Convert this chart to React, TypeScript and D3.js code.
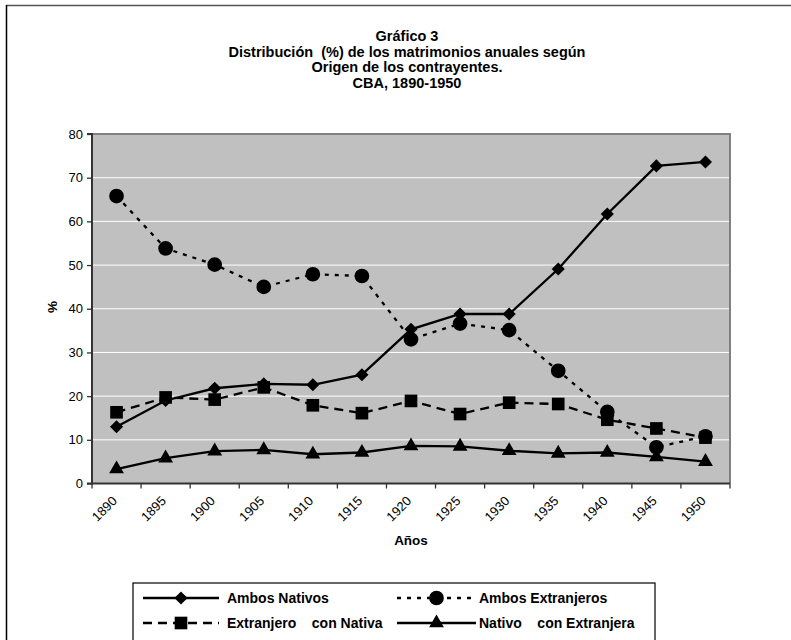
import React, { useEffect, useRef } from "react";
import * as d3 from "d3";

const years = ["1890","1895","1900","1905","1910","1915","1920","1925","1930","1935","1940","1945","1950"];
const ambosNativos = [13.0, 19.0, 21.8, 22.8, 22.6, 24.9, 35.3, 38.8, 38.8, 49.1, 61.7, 72.7, 73.6];
const ambosExtranjeros = [65.8, 53.8, 50.1, 45.0, 47.9, 47.5, 33.0, 36.6, 35.1, 25.8, 16.4, 8.3, 10.8];
const extranjeroConNativa = [16.3, 19.7, 19.2, 22.0, 17.9, 16.1, 18.9, 15.9, 18.5, 18.2, 14.6, 12.6, 10.5];
const nativoConExtranjera = [3.3, 5.8, 7.4, 7.7, 6.7, 7.1, 8.6, 8.5, 7.5, 6.9, 7.1, 6.1, 5.0];
const yTicks = [0, 10, 20, 30, 40, 50, 60, 70, 80];
const titleLines = ["Gráfico 3", "Distribución  (%) de los matrimonios anuales según", "Origen de los contrayentes.", "CBA, 1890-1950"];
const seriesNames = ["Ambos Nativos", "Ambos Extranjeros", "Extranjero    con Nativa", "Nativo    con Extranjera"];

export default function App() {
  const ref = useRef<SVGSVGElement>(null);
  useEffect(() => {
    const svg = d3.select(ref.current);
    svg.selectAll("*").remove();
    const W = 791, H = 640;
    const font = "'Liberation Sans', Arial, sans-serif";
    const left = 92, right = 730, top = 134, bottom = 483.5;

    // outer frame
    svg.append("rect").attr("x", 0).attr("y", 0).attr("width", W).attr("height", H).attr("fill", "#fff");
    svg.append("line").attr("x1", 6).attr("x2", W + 5).attr("y1", 5.5).attr("y2", 5.5).attr("stroke", "#555").attr("stroke-width", 1.5);
    svg.append("line").attr("x1", 6.5).attr("x2", 6.5).attr("y1", 5).attr("y2", H + 5).attr("stroke", "#000").attr("stroke-width", 1.5);

    // title
    const tg = svg.append("g").attr("font-family", font).attr("font-weight", "bold").attr("font-size", 14.5).attr("text-anchor", "middle");
    titleLines.forEach((t, i) => {
      tg.append("text").attr("x", 407).attr("y", 36 + i * 15.5).attr("dy", "0.36em").style("white-space", "pre").text(t);
    });

    const x = d3.scaleBand<string>().domain(years).range([left, right]);
    const y = d3.scaleLinear().domain([0, 80]).range([bottom, top]);

    // plot area
    svg.append("rect").attr("x", left).attr("y", top).attr("width", right - left).attr("height", bottom - top).attr("fill", "#C0C0C0");
    svg.append("g").selectAll("line").data(yTicks.filter(d => d > 0 && d < 80)).join("line")
      .attr("x1", left).attr("x2", right).attr("y1", d => y(d)).attr("y2", d => y(d))
      .attr("stroke", "#fff").attr("stroke-width", 1);
    svg.append("path").attr("d", `M${left},${top}H${right}V${bottom}`).attr("fill", "none").attr("stroke", "#808080").attr("stroke-width", 2);

    // y axis
    const ya = svg.append("g").attr("transform", `translate(${left},0)`)
      .call(d3.axisLeft(y).tickValues(yTicks).tickSize(5).tickPadding(4).tickFormat(d3.format("d")));
    ya.select(".domain").attr("stroke", "#333").attr("stroke-width", 2).attr("d", `M-5,${top}H0V${bottom}H-5`);
    ya.selectAll(".tick line").attr("stroke", "#333").attr("stroke-width", 1.3);
    ya.selectAll("text").attr("font-family", font).attr("font-size", 13).attr("fill", "#000");

    // x axis
    const xa = svg.append("g").attr("transform", `translate(0,${bottom})`);
    xa.append("line").attr("x1", left).attr("x2", right).attr("y1", 0).attr("y2", 0).attr("stroke", "#333").attr("stroke-width", 2);
    const bounds = years.map(d => x(d)!).concat([right]);
    xa.selectAll("line.tk").data(bounds).join("line").attr("class", "tk")
      .attr("x1", d => d).attr("x2", d => d).attr("y1", 0).attr("y2", 5).attr("stroke", "#333").attr("stroke-width", 1.3);
    xa.selectAll("text").data(years).join("text")
      .attr("transform", d => `translate(${x(d)! + x.bandwidth() / 2 - 2},${15}) rotate(-45)`)
      .attr("text-anchor", "end").attr("dy", "0.35em")
      .attr("font-family", font).attr("font-size", 13).text(d => d);

    // axis titles
    svg.append("text").attr("x", 411).attr("y", 540).attr("dy", "0.36em").attr("text-anchor", "middle").attr("font-family", font)
      .attr("font-weight", "bold").attr("font-size", 13.5).text("Años");
    svg.append("text").attr("transform", "translate(52,307) rotate(-90)").attr("dy", "0.36em").attr("text-anchor", "middle").attr("font-family", font)
      .attr("font-weight", "bold").attr("font-size", 13.5).text("%");

    const cx = (i: number) => x(years[i])! + x.bandwidth() / 2;
    const line = d3.line<number>().x((d, i) => cx(i)).y(d => y(d));

    const sym = {
      diamond: d3.symbol().type(d3.symbolDiamond2).size(110),
      circle: d3.symbol().type(d3.symbolCircle).size(170),
      square: d3.symbol().type(d3.symbolSquare).size(160),
      triangle: d3.symbol().type(d3.symbolTriangle).size(95),
    };

    const series = [
      { data: ambosNativos, dash: null, sym: sym.diamond },
      { data: ambosExtranjeros, dash: "4,6", sym: sym.circle },
      { data: extranjeroConNativa, dash: "9,6", sym: sym.square },
      { data: nativoConExtranjera, dash: null, sym: sym.triangle },
    ];

    const order = [0, 2, 3, 1];
    order.forEach(si => {
      const s = series[si];
      svg.append("path").attr("d", line(s.data)!).attr("fill", "none").attr("stroke", "#000")
        .attr("stroke-width", 2.3).attr("stroke-dasharray", s.dash ?? null);
    });
    order.forEach(si => {
      const s = series[si];
      svg.append("g").selectAll("path").data(s.data).join("path")
        .attr("d", s.sym()!)
        .attr("transform", (d, i) => `translate(${cx(i)},${y(d)})`)
        .attr("fill", "#000");
    });

    // legend
    const lg = svg.append("g");
    lg.append("rect").attr("x", 133).attr("y", 583).attr("width", 522).attr("height", 70)
      .attr("fill", "#fff").attr("stroke", "#000").attr("stroke-width", 1.2);
    const pos = [
      { x1: 143, x2: 219, ty: 598, tx: 227 },
      { x1: 397, x2: 476, ty: 598, tx: 479 },
      { x1: 143, x2: 219, ty: 623, tx: 227 },
      { x1: 397, x2: 476, ty: 623, tx: 479 },
    ];
    series.forEach((s, i) => {
      const p = pos[i];
      lg.append("line").attr("x1", p.x1).attr("x2", p.x2).attr("y1", p.ty).attr("y2", p.ty)
        .attr("stroke", "#000").attr("stroke-width", 2.3).attr("stroke-dasharray", s.dash ?? null);
      lg.append("path").attr("d", s.sym()!).attr("transform", `translate(${(p.x1 + p.x2) / 2},${p.ty})`).attr("fill", "#000");
      lg.append("text").attr("x", p.tx).attr("y", p.ty).attr("dy", "0.36em").attr("font-family", font)
        .attr("font-weight", "bold").attr("font-size", 14).style("white-space", "pre").text(seriesNames[i]);
    });
  }, []);
  return (
    <svg ref={ref} width={791} height={640} style={{ position: "absolute", left: 0, top: 0 }} />
  );
}
